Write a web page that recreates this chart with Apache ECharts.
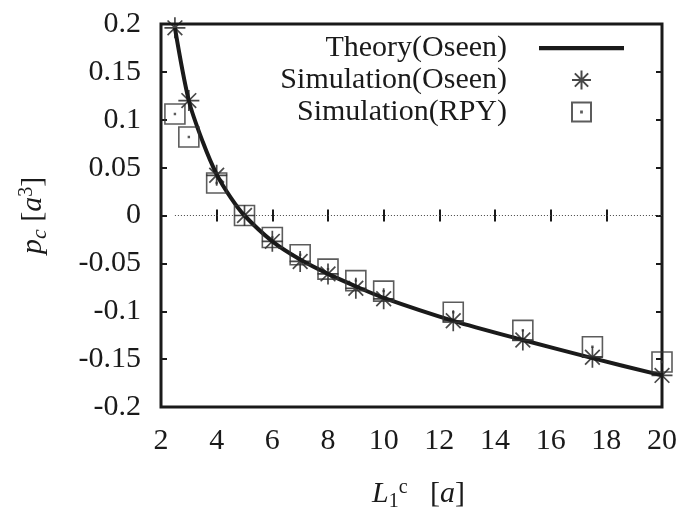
<!DOCTYPE html>
<html>
<head>
<meta charset="utf-8">
<script src="https://cdn.jsdelivr.net/npm/echarts@6/dist/echarts.min.js"></script>
<style>
  html, body { margin: 0; padding: 0; background: #fff; }
  #chart { width: 692px; height: 526px; }
</style>
</head>
<body>
<div id="chart"></div>
<script>
  // x positions (L1c in units of a)
  var theoryX = [2.5, 3, 3.5, 4, 4.5, 5, 6, 7, 8, 9, 10, 12.5, 15, 17.5, 20];
  var theoryY = [0.196, 0.12, 0.077, 0.043, 0.019, 0.0, -0.027, -0.046, -0.061, -0.074, -0.086, -0.110, -0.130, -0.149, -0.167];

  var simX = [2.5, 3, 4, 5, 6, 7, 8, 9, 10, 12.5, 15, 17.5, 20];
  var oseenY = [0.196, 0.12, 0.042, 0.0, -0.027, -0.048, -0.061, -0.076, -0.087, -0.110, -0.130, -0.148, -0.167];
  var rpyY = [0.106, 0.082, 0.034, 0.0, -0.023, -0.041, -0.056, -0.068, -0.079, -0.101, -0.120, -0.137, -0.153];

  var FONT = "'Liberation Serif', 'DejaVu Serif', serif";
  var INK = "#1a1a1a";

  var STAR = "path://M10,0L10,20M0,10L20,10M3,3L17,17M17,3L3,17";
  var BOX = "path://M0,0L20,0L20,20L0,20ZM9.6,9.6L10.4,9.6L10.4,10.4L9.6,10.4Z";
  var BAR = "path://M0,0L100,0L100,5L0,5Z";

  function zip(xs, ys) {
    return xs.map(function (x, i) { return [x, ys[i]]; });
  }

  var chart = echarts.init(document.getElementById("chart"), null, { renderer: "canvas" });

  var tickStyle = { show: true, inside: true, length: 6, lineStyle: { color: INK, width: 2 } };
  var labelStyle = { fontFamily: FONT, fontSize: 30, color: INK };

  chart.setOption({
    backgroundColor: "#fff",
    animation: false,
    grid: {
      left: 161, top: 24, right: 30, bottom: 119,
      outerBoundsMode: "none",
      show: true, borderColor: INK, borderWidth: 3, backgroundColor: "transparent"
    },
    legend: {
      orient: "vertical",
      right: 63,
      top: 28,
      align: "right",
      itemWidth: 85,
      itemHeight: 19,
      itemGap: 2,
      textStyle: { fontFamily: FONT, fontSize: 30, color: INK, lineHeight: 28, padding: [0, 27, 0, 0] },
      data: [
        { name: "Theory(Oseen)", icon: BAR },
        { name: "Simulation(Oseen)" },
        { name: "Simulation(RPY)" }
      ]
    },
    xAxis: [{
      type: "value", min: 2, max: 20, interval: 2, position: "bottom",
      axisLine: { show: false }, splitLine: { show: false },
      axisTick: tickStyle,
      axisLabel: Object.assign({ margin: 19 }, labelStyle),
      name: "{i|L}{sub|1}{sup|c}{n|   [}{i|a}{n|]}",
      nameLocation: "middle",
      nameGap: 67,
      nameTextStyle: {
        padding: [0, 0, 0, 14],
        rich: {
          i: { fontFamily: FONT, fontSize: 30, fontStyle: "italic", color: INK, lineHeight: 40, verticalAlign: "middle" },
          n: { fontFamily: FONT, fontSize: 30, color: INK, lineHeight: 40, verticalAlign: "middle" },
          sub: { fontFamily: FONT, fontSize: 20, color: INK, lineHeight: 40, verticalAlign: "bottom", padding: [0, 0, 2, 0] },
          sup: { fontFamily: FONT, fontSize: 20, color: INK, lineHeight: 40, verticalAlign: "top", padding: [4, 0, 0, 0] }
        }
      }
    }, {
      type: "value", min: 2, max: 20, interval: 2, position: "top",
      axisLine: { show: false }, splitLine: { show: false },
      axisTick: tickStyle, axisLabel: { show: false }
    }],
    yAxis: [{
      type: "value", min: -0.2, max: 0.2, interval: 0.05, position: "left",
      axisLine: { show: false }, splitLine: { show: false },
      axisTick: tickStyle,
      axisLabel: Object.assign({ margin: 20 }, labelStyle),
      name: "{i|p}{subi|c}{n| [}{i|a}{sup|3}{n|]}",
      nameLocation: "middle",
      nameRotate: 90,
      nameGap: 108,
      nameTextStyle: {
        rich: {
          i: { fontFamily: FONT, fontSize: 30, fontStyle: "italic", color: INK, lineHeight: 40, verticalAlign: "middle" },
          n: { fontFamily: FONT, fontSize: 30, color: INK, lineHeight: 40, verticalAlign: "middle" },
          subi: { fontFamily: FONT, fontSize: 22, fontStyle: "italic", color: INK, lineHeight: 40, verticalAlign: "bottom", padding: [0, 0, 2, 0] },
          sup: { fontFamily: FONT, fontSize: 20, color: INK, lineHeight: 40, verticalAlign: "top", padding: [4, 0, 0, 0] }
        }
      }
    }, {
      type: "value", min: -0.2, max: 0.2, interval: 0.05, position: "right",
      axisLine: { show: false }, splitLine: { show: false },
      axisTick: tickStyle, axisLabel: { show: false }
    }],
    series: [
      {
        name: "Theory(Oseen)",
        type: "line",
        data: zip(theoryX, theoryY),
        smooth: 0.3,
        showSymbol: false,
        symbol: "none",
        lineStyle: { color: INK, width: 4 },
        itemStyle: { color: INK },
        z: 3,
        markLine: {
          silent: true,
          symbol: "none",
          label: { show: false },
          lineStyle: { color: "#444", width: 1, type: [1, 2] },
          data: [[{ coord: [2.5, 0] }, { coord: [20, 0] }]]
        }
      },
      {
        name: "Simulation(Oseen)",
        type: "scatter",
        data: zip(simX, oseenY),
        symbol: STAR,
        symbolSize: 21,
        itemStyle: { color: "rgba(0,0,0,0)", borderColor: INK, borderWidth: 1.7 },
        z: 4
      },
      {
        name: "Simulation(RPY)",
        type: "scatter",
        data: zip(simX, rpyY),
        symbol: BOX,
        symbolSize: 20,
        itemStyle: { color: "rgba(0,0,0,0)", borderColor: "#333", borderWidth: 1.6 },
        z: 4
      }
    ]
  });
</script>
</body>
</html>
